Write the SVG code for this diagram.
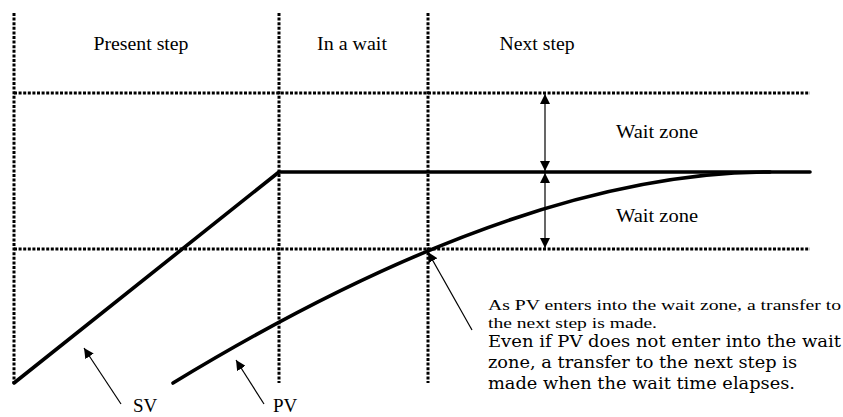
<svg xmlns="http://www.w3.org/2000/svg" width="843" height="417" viewBox="0 0 843 417">
<style>
.dot{fill:none;stroke:#000;stroke-width:3;stroke-dasharray:3 1.6}
.thick{fill:none;stroke:#000;stroke-width:3.6;stroke-linecap:round;stroke-linejoin:round}
.thin{fill:none;stroke:#000;stroke-width:1.2}
.t{font-family:"Liberation Serif","DejaVu Serif Condensed","DejaVu Serif",serif;fill:#000}
.w{font-family:"DejaVu Serif","Liberation Serif",serif;fill:#000}
</style>
<defs>
<marker id="ah" viewBox="0 0 10 10" refX="10" refY="5" markerWidth="10" markerHeight="10" markerUnits="userSpaceOnUse" orient="auto-start-reverse">
<path d="M0,0 L10,5 L0,10 z" fill="#000"/>
</marker>
</defs>
<rect width="843" height="417" fill="#fff"/>
<g id="grid">
<line class="dot" x1="14" y1="13" x2="14" y2="383"/>
<line class="dot" x1="279" y1="13" x2="279" y2="383"/>
<line class="dot" x1="428" y1="13" x2="428" y2="383"/>
<line class="dot" x1="14" y1="93" x2="810" y2="93"/>
<line class="dot" x1="14" y1="249" x2="810" y2="249"/>
</g>
<g id="headers">
<text class="t" x="141" y="50" font-size="19" text-anchor="middle" textLength="95" lengthAdjust="spacingAndGlyphs">Present step</text>
<text class="t" x="352" y="50" font-size="19" text-anchor="middle" textLength="70" lengthAdjust="spacingAndGlyphs">In a wait</text>
<text class="t" x="537" y="50" font-size="19" text-anchor="middle" textLength="75" lengthAdjust="spacingAndGlyphs">Next step</text>
</g>
<g id="sv">
<polyline class="thick" points="14,383 279,172 810,172"/>
</g>
<g id="pv">
<path class="thick" d="M173,383 Q520,172 770,172"/>
</g>
<g id="connectors">
<line class="thin" x1="545" y1="94" x2="545" y2="171" marker-start="url(#ah)" marker-end="url(#ah)"/>
<line class="thin" x1="545" y1="173" x2="545" y2="248" marker-start="url(#ah)" marker-end="url(#ah)"/>
<line class="thin" x1="121" y1="404" x2="84" y2="348" marker-end="url(#ah)"/>
<line class="thin" x1="264" y1="404" x2="236" y2="360" marker-end="url(#ah)"/>
<line class="thin" x1="472" y1="330" x2="428" y2="252" marker-end="url(#ah)"/>
</g>
<g id="zone-labels">
<text class="t" x="616" y="138" font-size="19" textLength="82" lengthAdjust="spacingAndGlyphs">Wait zone</text>
<text class="t" x="616" y="222" font-size="19" textLength="82" lengthAdjust="spacingAndGlyphs">Wait zone</text>
</g>
<g id="sv-label"><text class="t" x="133" y="412" font-size="19">SV</text></g>
<g id="pv-label"><text class="t" x="273" y="412" font-size="19">PV</text></g>
<g id="note">
<text class="t" x="488" y="310" font-size="15" textLength="353" lengthAdjust="spacingAndGlyphs">As PV enters into the wait zone, a transfer to</text>
<text class="t" x="488" y="328" font-size="15" textLength="169" lengthAdjust="spacingAndGlyphs">the next step is made.</text>
<text class="w" x="488" y="347" font-size="16" textLength="353" lengthAdjust="spacingAndGlyphs">Even if PV does not enter into the wait</text>
<text class="w" x="488" y="368" font-size="16" textLength="309" lengthAdjust="spacingAndGlyphs">zone, a transfer to the next step is</text>
<text class="w" x="488" y="389" font-size="16" textLength="307" lengthAdjust="spacingAndGlyphs">made when the wait time elapses.</text>
</g>
</svg>
